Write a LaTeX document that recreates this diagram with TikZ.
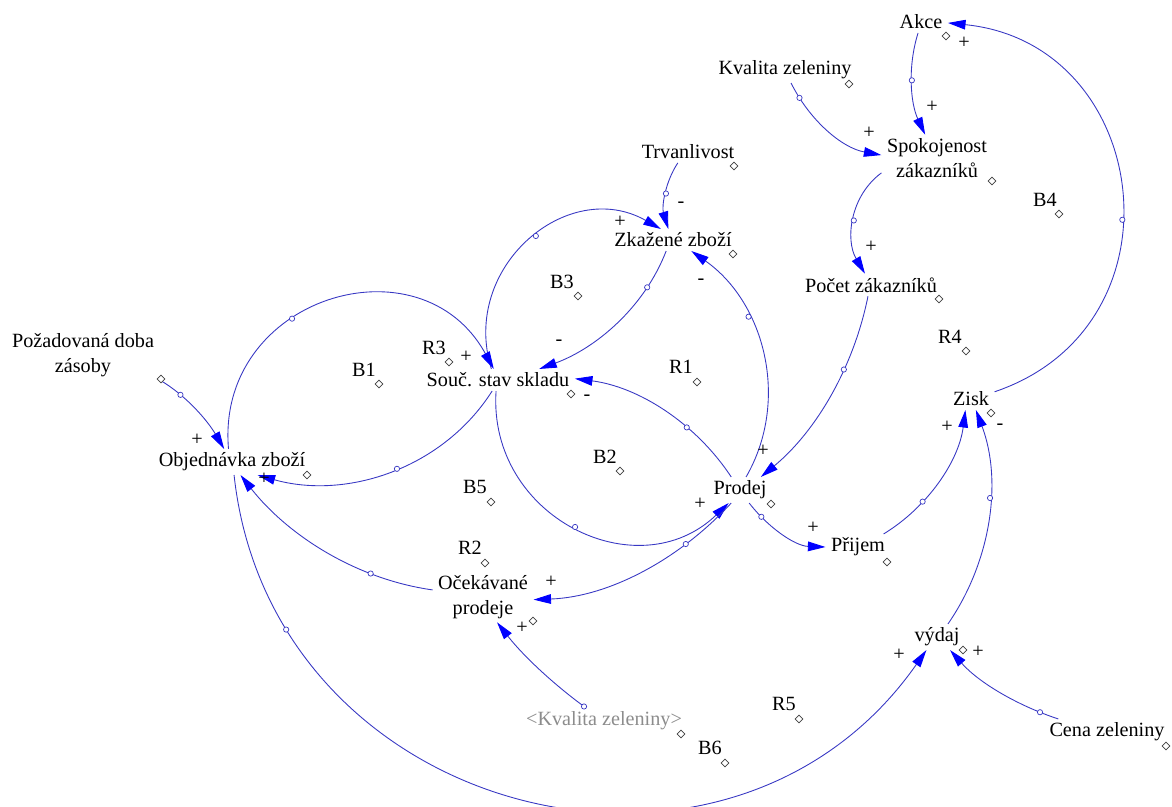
\documentclass[tikz,border=0pt]{standalone}
\usepackage{fontspec}
\setmainfont{Liberation Serif}
\usepackage{xcolor}
\usetikzlibrary{shapes.geometric, arrows.meta}

\definecolor{linkblue}{RGB}{55,55,195}
\definecolor{tipblue}{RGB}{0,0,255}
\definecolor{shadowtext}{RGB}{140,140,140}

\begin{document}
\begin{tikzpicture}[
  x=0.02cm, y=0.02cm,
  var/.style={rectangle, inner xsep=3pt, inner ysep=2pt, align=center, font=\fontsize{11.5}{14}\selectfont},
  looplbl/.style={font=\fontsize{11.5}{14}\selectfont, inner sep=0pt},
  pol/.style={font=\fontsize{11.5}{14}\selectfont, inner sep=0pt},
  arr/.style={draw=linkblue, line width=0.5pt, -{Triangle[length=10pt, width=5.5pt, color=tipblue]}},
  hnd/.style={circle, draw=linkblue, fill=white, inner sep=0pt, minimum size=3pt, line width=0.4pt},
  dmd/.style={diamond, draw=black!75, fill=white, inner sep=0pt, minimum size=4.5pt, line width=0.4pt}
]
  \useasboundingbox (0,0) rectangle (1172,-807);

  % variables
  \node[var] (akce) at (921,-22) {Akce};
  \node[var] (kval) at (785,-70) {Kvalita zeleniny};
  \node[var] (spok) at (937,-158) {Spokojenost\\zákazníků};
  \node[var] (trv) at (688,-152) {Trvanlivost};
  \node[var] (zkaz) at (673,-240) {Zkažené zboží};
  \node[var] (pocet) at (871,-285) {Počet zákazníků};
  \node[var] (souc) at (498,-380) {Souč. stav skladu};
  \node[var] (pozad) at (83,-355) {Požadovaná doba\\zásoby};
  \node[var] (obj) at (232,-462) {Objednávka zboží};
  \node[var] (prodej) at (740,-490) {Prodej};
  \node[var] (ocek) at (483,-597) {Očekávané\\prodeje};
  \node[var, text=shadowtext] (kvalg) at (604,-721) {<Kvalita zeleniny>};
  \node[var] (zisk) at (971,-399) {Zisk};
  \node[var] (prijem) at (858,-547) {Přijem};
  \node[var] (vydaj) at (937,-637) {výdaj};
  \node[var] (cena) at (1107,-732) {Cena zeleniny};

  % loop markers
  \foreach \lbl/\x/\y in {B4/1045/200, B3/562/282, R4/950/337, R3/434/348, B1/364/370,
      R1/681/367, B2/605/457, B5/475/487, R2/470/548, R5/784/704, B6/710/748}
    \node[looplbl] (\lbl) at (\x,-\y) {\lbl};

  % causal links
  \draw[arr] (akce.-105) to[out=-107.5, in=115, looseness=0.88] node[hnd, pos=0.46] {} (spok.117);
  \draw[arr] (kval.-65) to[out=-63.7, in=169.7, looseness=0.9] node[hnd, pos=0.14] {} (spok.177);
  \draw[arr] (zisk.17) to[out=18.7, in=-5.7, looseness=1.41] node[hnd, pos=0.44] {} (akce.-2);
  \draw[arr] (spok.-165) to[out=-143.6, in=120.6, looseness=0.98] node[hnd, pos=0.51] {} (pocet.118);
  \draw[arr] (trv.-133) to[out=-123.5, in=106.7, looseness=0.89] node[hnd, pos=0.48] {} (zkaz.113);
  \draw[arr] (souc.121) to[out=107.2, in=150.4, looseness=1.245] node[hnd, pos=0.53] {} (zkaz.138);
  \draw[arr] (zkaz.-122) to[out=-111, in=20, looseness=0.89] node[hnd, pos=0.23] {} (souc.15.5);
  \draw[arr] (prodej.65) to[out=60.1, in=-35.1, looseness=0.98] node[hnd, pos=0.66] {} (zkaz.-31);
  \draw[arr] (pocet.-105) to[out=-101.4, in=39.6, looseness=0.88] node[hnd, pos=0.36] {} (prodej.32);
  \draw[arr] (prodej.124) to[out=123.3, in=-7.3, looseness=0.89] node[hnd, pos=0.35] {} (souc.1.5);
  \draw[arr] (souc.-100) to[out=-93.8, in=223.8, looseness=1.25] node[hnd, pos=0.5] {} (prodej.-131);
  \draw[arr] (souc.-118) to[out=-122.5, in=-15.7, looseness=0.945] node[hnd, pos=0.47] {} (obj.-27);
  \draw[arr] (obj.105) to[out=94.9, in=118.7, looseness=1.41] node[hnd, pos=0.39] {} (souc.111);
  \draw[arr] (pozad.-18) to[out=-30.4, in=120.4, looseness=0.86] node[hnd, pos=0.27] {} (obj.121);
  \draw[arr] (ocek.172) to[out=172, in=-51.8, looseness=0.88] node[hnd, pos=0.28] {} (obj.-57);
  \draw[arr] (obj.-81) to[out=-83.8, in=235, looseness=1.24] node[hnd, pos=0.17] {} (vydaj.-129);
  \draw[arr] (prodej.-124) to[out=-132.5, in=2.1, looseness=0.88] node[hnd, pos=0.27] {} (ocek.-3);
  \draw[arr] (kvalg.144) to[out=144, in=-52, looseness=0.86] node[hnd, pos=0.02] {} (ocek.-61);
  \draw[arr] (prodej.-55) to[out=-52.2, in=178, looseness=0.89] node[hnd, pos=0.2] {} (prijem.180);
  \draw[arr] (prijem.27) to[out=31.4, in=-97.4, looseness=0.89] node[hnd, pos=0.33] {} (zisk.-117);
  \draw[arr] (vydaj.50) to[out=55.4, in=-69.4, looseness=0.9] node[hnd, pos=0.6] {} (zisk.-66);
  \draw[arr] (cena.165) to[out=161.8, in=-48.6, looseness=0.86] node[hnd, pos=0.15] {} (vydaj.-45);

  % polarities
  \foreach \s/\x/\y in {+/932/107, +/869/133, +/964/43, +/871/247, -/681/205, +/620/222,
      -/559/343, -/701/282, -/587/398, +/763/451, +/700/504, +/264/479, +/466/357,
      +/197/440, +/899/655, +/551/582, +/522/628, +/813/528, +/947/427, -/1000/427, +/978/652}
    \node[pol] at (\x,-\y) {\s};

  % selection marks
  \foreach \x/\y in {946/36, 849/84, 734/166, 992/181, 1059/214, 733/254, 578/296, 939/299,
      966/351, 161/379, 449/362, 379/384, 571/394, 697/382, 991/413, 307/475, 620/471,
      491/502, 771/504, 887/562, 485/563, 533/621, 963/650, 799/719, 681/734, 725/763, 1166/746}
    \node[dmd] at (\x,-\y) {};
\end{tikzpicture}
\end{document}
